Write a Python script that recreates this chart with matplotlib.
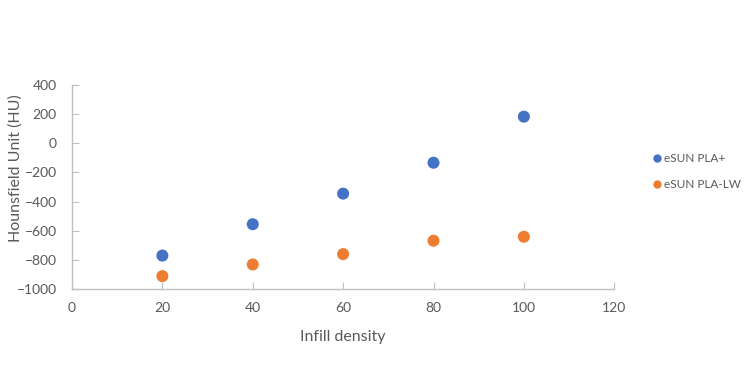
import matplotlib.pyplot as plt
from matplotlib.lines import Line2D

# values
infill = [20, 40, 60, 80, 100]
pla_plus = [-770, -555, -345, -133, 183]
pla_lw = [-911, -831, -760, -668, -641]

series_names = ["eSUN PLA+", "eSUN PLA-LW"]
colors = ["#4472C4", "#ED7D31"]

plt.rcParams['font.family'] = ['Lato', 'DejaVu Sans']

fig = plt.figure(figsize=(7.5, 3.65), dpi=100)
ax = fig.add_axes([0.096, 0.208, 0.723, 0.559])

ax.scatter(infill, pla_plus, s=75, color=colors[0], edgecolors='none', zorder=3)
ax.scatter(infill, pla_lw, s=75, color=colors[1], edgecolors='none', zorder=3)

ax.set_xlim(0, 120)
ax.set_ylim(-1000, 400)
ax.set_xticks(range(0, 121, 20))
ax.set_yticks(range(-1000, 401, 200))

for side in ['top', 'right']:
    ax.spines[side].set_visible(False)
for side in ['left', 'bottom']:
    ax.spines[side].set_color('#bfbfbf')
    ax.spines[side].set_linewidth(1)

ax.tick_params(direction='in', length=5, color='#bfbfbf', labelcolor='#595959',
               labelsize=10)
ax.tick_params(axis='y', pad=11)
ax.tick_params(axis='x', pad=9)
ax.set_xlabel("Infill density", fontsize=11.5, color='#595959', labelpad=12)
# y label placed by hand so it is not clipped at the left edge
fig.text(0.021, 0.54, "Hounsfield Unit (HU)", rotation=90, fontsize=11.5,
         color='#595959', ha='center', va='center')

# legend on the right, like the spreadsheet one
handles = [Line2D([], [], marker='o', lw=0, ms=6, color=c, markeredgewidth=0)
           for c in colors]
fig.legend(handles, series_names, loc='center left', bbox_to_anchor=(0.852, 0.53),
           frameon=False, fontsize=8.5, labelcolor='#595959', handletextpad=0.0,
           labelspacing=1.3, handlelength=1.2)

fig.savefig("out.png", dpi=100)
